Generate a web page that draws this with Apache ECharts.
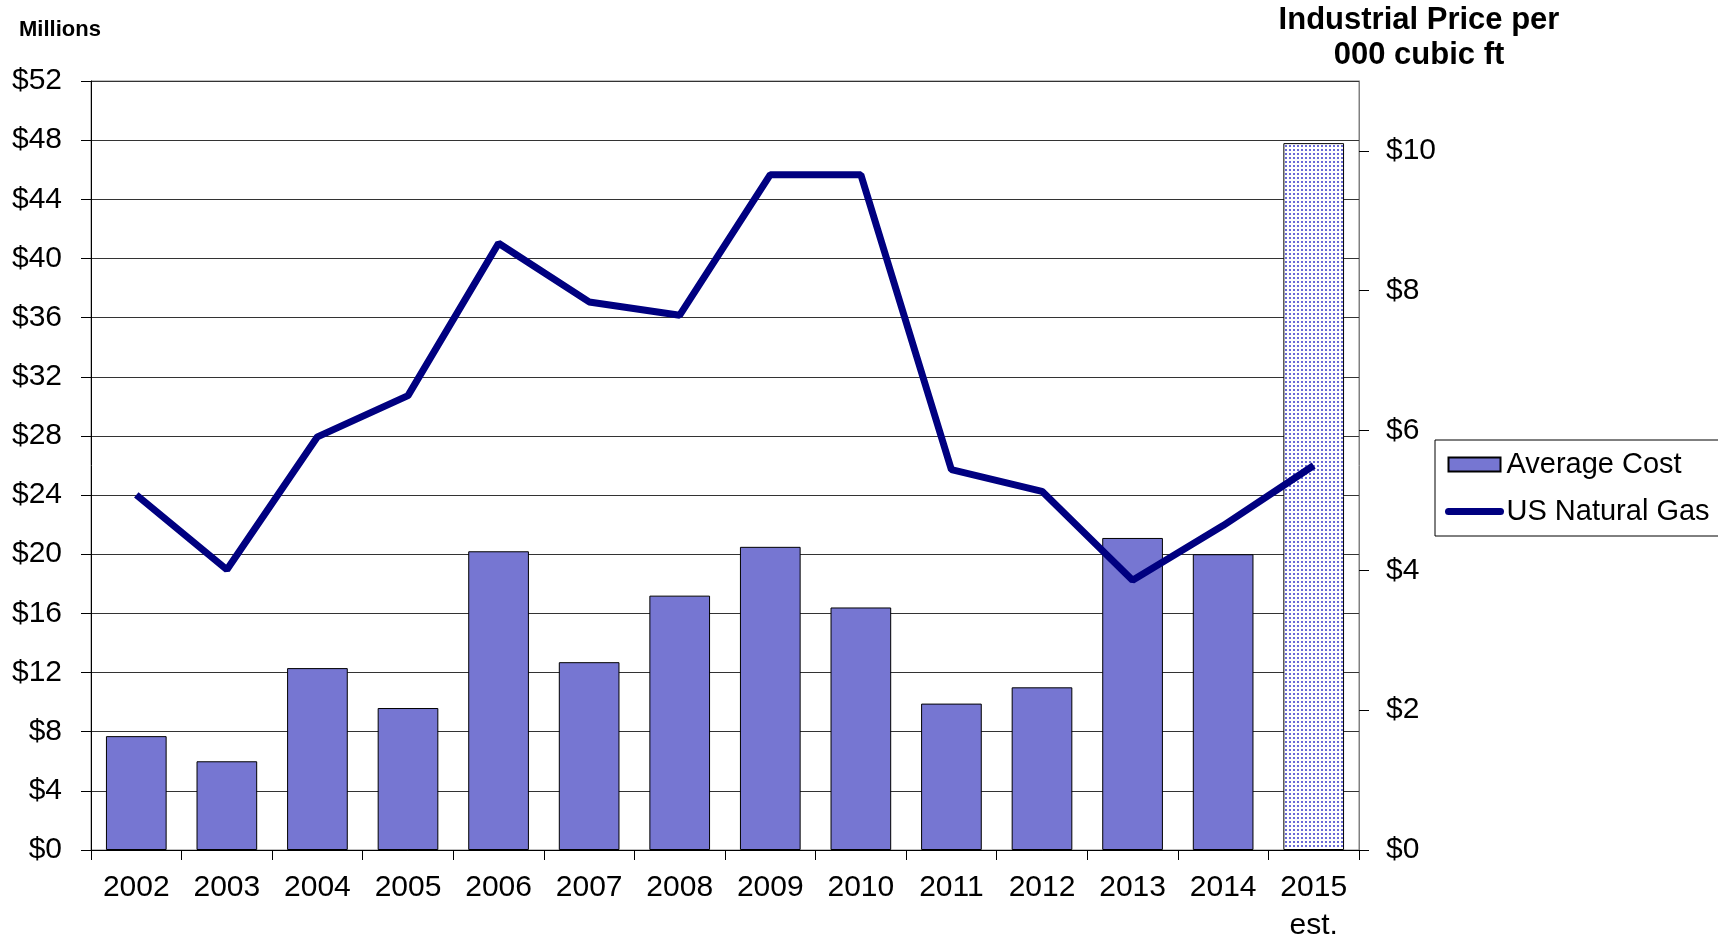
<!DOCTYPE html>
<html>
<head>
<meta charset="utf-8">
<script src="https://cdn.jsdelivr.net/npm/echarts@6/dist/echarts.min.js"></script>
<style>
    html, body { margin: 0; padding: 0; background: #fff; }
    #main { width: 1718px; height: 936px; }
</style>
</head>
<body>
<div id="main"></div>
<script>
var years = ['2002', '2003', '2004', '2005', '2006', '2007', '2008', '2009', '2010', '2011', '2012', '2013', '2014', '2015\nest.'];
var averageCost = [7.7, 6.0, 12.3, 9.6, 20.2, 12.7, 17.2, 20.5, 16.4, 9.9, 11.0, 21.1, 20.0, 47.8];
var gasPrice = [5.08, 4.01, 5.91, 6.50, 8.68, 7.84, 7.65, 9.66, 9.66, 5.44, 5.13, 3.86, 4.64, 5.50];

var font = 'Liberation Sans, Arial, sans-serif';

// 点状填充 (2015 est.)
function dotPattern() {
    var c = document.createElement('canvas');
    c.width = 4;
    c.height = 4;
    var ctx = c.getContext('2d');
    ctx.fillStyle = '#ffffff';
    ctx.fillRect(0, 0, 4, 4);
    ctx.fillStyle = '#6a6ad6';
    ctx.fillRect(1, 1, 2, 2);
    return c;
}

function getBarData(arr) {
    var data = [];
    for (var i = 0; i < arr.length; i++) {
        if (i == arr.length - 1) {
            data.push({
                value: arr[i],
                itemStyle: {
                    color: {image: dotPattern(), repeat: 'repeat'},
                    borderColor: '#000',
                    borderWidth: 1
                }
            });
        } else {
            data.push(arr[i]);
        }
    }
    return data;
}

var myChart = echarts.init(document.getElementById('main'));
var option = {
    animation: false,
    backgroundColor: '#fff',
    textStyle: {fontFamily: font},
    grid: {
        left: 91,
        right: 359,
        top: 81,
        bottom: 86,
        containLabel: false,
        outerBoundsMode: 'none',
        show: true,
        borderColor: '#808080',
        borderWidth: 1
    },
    graphic: [
        {
            type: 'text',
            x: 19,
            y: 19,
            style: {text: 'Millions', fontSize: 22, fontWeight: 'bold', fontFamily: font, fill: '#000'}
        },
        {
            type: 'text',
            x: 1419,
            y: 3,
            style: {
                text: 'Industrial Price per\n000 cubic ft',
                fontSize: 31,
                fontWeight: 'bold',
                fontFamily: font,
                fill: '#000',
                align: 'center',
                lineHeight: 35
            }
        }
    ],
    legend: {
        orient: 'vertical',
        left: 1435,
        top: 440,
        padding: [10, 30, 10, 10],
        itemGap: 18,
        itemWidth: 52,
        itemHeight: 14,
        borderColor: '#000',
        borderWidth: 1,
        textStyle: {fontSize: 29, fontFamily: font, color: '#000', padding: [0, 0, 0, 1]},
        data: [
            {name: 'Average Cost', icon: 'rect'},
            {
                name: 'US Natural Gas',
                itemStyle: {color: 'rgba(0,0,0,0)', borderWidth: 0},
                lineStyle: {width: 7, cap: 'round', color: '#000080'}
            }
        ]
    },
    xAxis: {
        type: 'category',
        data: years,
        axisLine: {lineStyle: {color: '#000', width: 1}},
        axisTick: {show: true, length: 10, lineStyle: {color: '#000'}},
        axisLabel: {fontSize: 30, color: '#000', margin: 19, lineHeight: 38, fontFamily: font}
    },
    yAxis: [
        {
            type: 'value',
            min: 0,
            max: 52,
            interval: 4,
            axisLine: {show: true, lineStyle: {color: '#000'}},
            axisTick: {show: true, length: 10, lineStyle: {color: '#000'}},
            splitLine: {lineStyle: {color: '#333', width: 1}},
            axisLabel: {
                fontSize: 30, color: '#000', margin: 29, fontFamily: font,
                formatter: function (v) { return '$' + v; }
            }
        },
        {
            type: 'value',
            min: 0,
            max: 11,
            interval: 2,
            position: 'right',
            axisLine: {show: true, lineStyle: {color: '#808080'}},
            axisTick: {show: true, length: 10, lineStyle: {color: '#000'}},
            splitLine: {show: false},
            axisLabel: {
                fontSize: 30, color: '#000', margin: 27, fontFamily: font,
                showMaxLabel: false,
                formatter: function (v) { return v > 10 ? '' : '$' + v; }
            }
        }
    ],
    series: [
        {
            name: 'Average Cost',
            type: 'bar',
            yAxisIndex: 0,
            barWidth: '67%',
            itemStyle: {color: '#7676d2', borderColor: '#000', borderWidth: 1},
            data: getBarData(averageCost)
        },
        {
            name: 'US Natural Gas',
            type: 'line',
            yAxisIndex: 1,
            symbol: 'none',
            lineStyle: {color: '#000080', width: 7},
            itemStyle: {color: '#000080'},
            data: gasPrice
        }
    ]
};
myChart.setOption(option);
</script>
</body>
</html>
